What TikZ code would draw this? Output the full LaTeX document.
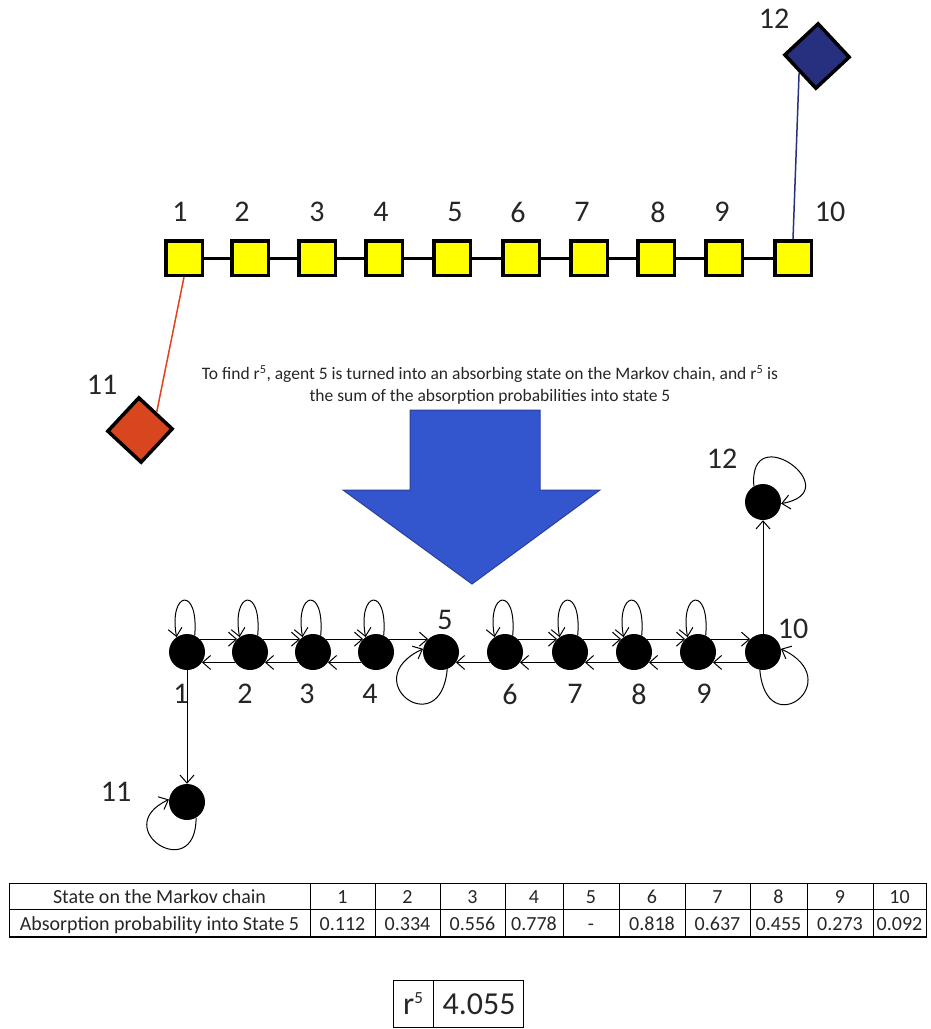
\documentclass[tikz,border=0pt]{standalone}
\usepackage{fontspec}
\setmainfont{Carlito}
\usetikzlibrary{arrows.meta}

\definecolor{sqyellow}{HTML}{FFFF00}
\definecolor{agentred}{HTML}{D8461F}
\definecolor{linered}{HTML}{E5401C}
\definecolor{agentblue}{HTML}{26307E}
\definecolor{arrowblue}{HTML}{3356CF}
\definecolor{arrowedge}{HTML}{2A3F9C}
\definecolor{txt}{HTML}{262626}

\begin{document}
\begin{tikzpicture}[x=1pt,y=1pt]
\tikzstyle{every node}+=[inner sep=0pt,text=txt]
\tikzstyle{agent}=[draw=black,line width=3.5pt,fill=sqyellow,minimum width=36.5pt,minimum height=34.5pt]
\tikzstyle{extagent}=[draw=black,line width=3.5pt,minimum size=45.5pt]
\tikzstyle{state}=[circle,fill=black,minimum size=36pt]
\tikzstyle{lbl}=[font=\fontsize{30}{32}\selectfont]
\tikzstyle{cell}=[font=\fontsize{20}{22}\selectfont,anchor=base]
\tikzstyle{tr}=[-{Straight Barb[length=8pt,width=14pt]},line width=1pt]
\useasboundingbox (0,0) rectangle (931,-1029);

% agents on the line
\foreach \n/\x in {1/184,2/250,3/317,4/384,5/452,6/521,7/589,8/656,9/724,10/793}
  \node[agent] (s\n) at (\x,-258) {};
\foreach \a/\b in {1/2,2/3,3/4,4/5,5/6,6/7,7/8,8/9,9/10}
  \draw[line width=3pt] (s\a) -- (s\b);
\foreach \n/\x in {1/180,2/242,3/317,4/381,5/455,6/518,7/582,8/658,9/722,10/830}
  \node[lbl] (t\n) at (\x,-212) {\n};

% the two outside agents
\node[extagent,fill=agentblue,rotate=43] (d12) at (817,-56) {};
\node[lbl] (t12) at (774,-19) {12};
\draw[agentblue,line width=1.5pt] (d12.west) -- (s10.north);
\node[extagent,fill=agentred,rotate=47] (d11) at (140,-430) {};
\node[lbl] (t11) at (102,-385) {11};
\draw[linered,line width=1.5pt] (s1.south) -- (d11.east);

\node[align=center,font=\fontsize{17.5}{22}\selectfont] (note) at (490,-385)
  {To find r\textsuperscript{5}, agent 5 is turned into an absorbing state on the Markov chain, and r\textsuperscript{5} is\\
   the sum of the absorption probabilities into state 5};

% big arrow
\draw[arrowedge,fill=arrowblue,line width=1pt] (410,-410) -- (540,-410) -- (540,-490) -- (600,-490)
  -- (472,-584) -- (343,-490) -- (410,-490) -- cycle;

% Markov chain with state 5 absorbing
\foreach \n/\x in {1/187,2/250,3/313,4/376,5/441,6/505,7/570,8/634,9/698,10/763}
  \node[state] (c\n) at (\x,-652) {};
\node[state] (c12) at (763,-502) {};
\node[state] (c11) at (187,-802) {};
\foreach \a/\b in {1/2,2/3,3/4,4/5,6/7,7/8,8/9,9/10}
  \draw[tr] (c\a.45) -- (c\b.135);
\foreach \a/\b in {1/2,2/3,3/4,5/6,6/7,7/8,8/9,9/10}
  \draw[tr] (c\b.-145) -- (c\a.-35);
\foreach \n in {1,2,3,4,6,7,8,9}
  \draw[tr] (c\n.65) .. controls +(85:50) and +(100:47) .. (c\n.125);
\draw[tr] (c5.-70) .. controls +(-95:75) and +(205:75) .. (c5.170);
\draw[tr] (c10.-100) .. controls +(-85:75) and +(-25:75) .. (c10.10);
\draw[tr] (c12.120) .. controls +(95:70) and +(10:70) .. (c12.-5);
\draw[tr] (c11.-60) .. controls +(-90:68) and +(205:68) .. (c11.172);
\draw[tr] (c1) -- (c11);
\draw[tr] (c10) -- (c12);

\foreach \n/\x in {1/181,2/245,3/307,4/370,6/510,7/575,8/639,9/704}
  \node[lbl] (m\n) at (\x,-694) {\n};
\node[lbl] (m5) at (445,-620) {5};
\node[lbl] (m10) at (793,-629) {10};
\node[lbl] (m12) at (722,-459) {12};
\node[lbl] (m11) at (116,-792) {11};

% table of absorption probabilities
\draw[line width=1pt] (9,-883) rectangle (926,-937);
\draw[line width=2.5pt] (9,-937) -- (926,-937);
\draw[line width=1pt] (9,-909) -- (926,-909);
\foreach \x in {310,375,440,505,563,619,685,750,807,873}
  \draw[line width=1pt] (\x,-883) -- (\x,-937);
\node[cell] (hd) at (159.5,-903) {State on the Markov chain};
\node[cell] (pr) at (159.5,-930) {Absorption probability into State 5};
\foreach \n/\x/\p in {1/342.5/0.112,2/407.5/0.334,3/472.5/0.556,4/534/0.778,5/591/-,
    6/652/0.818,7/717.5/0.637,8/778.5/0.455,9/840/0.273,10/899.5/0.092}{
  \node[cell] (h\n) at (\x,-903) {\n};
  \node[cell] (p\n) at (\x,-930) {\p};
}

% value of r^5
\draw[line width=1pt] (393,-980) rectangle (523,-1027);
\draw[line width=1pt] (433,-980) -- (433,-1027);
\node[font=\fontsize{32}{34}\selectfont] (rr) at (413,-1004) {r\raisebox{11pt}{\fontsize{17}{17}\selectfont 5}};
\node[font=\fontsize{32}{34}\selectfont] (rv) at (479,-1004) {4.055};
\end{tikzpicture}
\end{document}
